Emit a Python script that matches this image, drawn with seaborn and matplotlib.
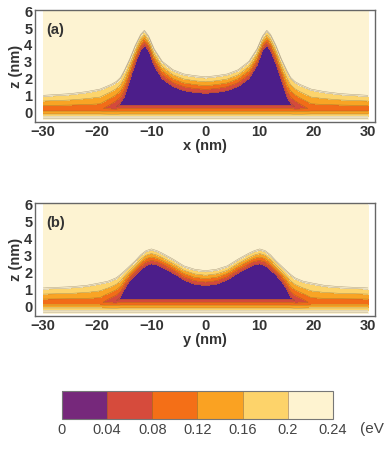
import numpy as np
import seaborn as sns
import matplotlib
matplotlib.use("Agg")
import matplotlib.pyplot as plt
from matplotlib.colors import ListedColormap, BoundaryNorm
from matplotlib.cm import ScalarMappable

# energy levels (eV) and colorbar labels
levels = [0, 0.04, 0.08, 0.12, 0.16, 0.2, 0.24]
level_labels = ["0", "0.04", "0.08", "0.12", "0.16", "0.2", "0.24"]

# band edges, given at |x| (nm), mirrored for x < 0
# ct = where the cream (0.2 eV) region starts above, pt/pb = top/bottom of the
# core (purple where vmin = 0), vmin = lowest energy in that column
xa = [0, 2, 4, 6, 8, 9.5, 10.5, 11.3, 12, 13, 14, 15, 15.7, 16.5, 17.5, 19.5, 22, 25, 30]
ct_a = [2.03, 2.1, 2.2, 2.45, 2.95, 3.7, 4.45, 4.8, 4.55, 3.9, 3.1, 2.42, 2.0, 1.75, 1.57, 1.3, 1.15, 1.03, 0.93]
pt_a = [1.13, 1.18, 1.29, 1.53, 2.0, 2.8, 3.7, 3.98, 3.7, 2.9, 1.93, 0.93, 0.55, 0.33, 0.28, 0.2, 0.2, 0.2, 0.2]
pb_a = [0.4, 0.4, 0.4, 0.4, 0.4, 0.4, 0.4, 0.4, 0.4, 0.4, 0.4, 0.4, 0.4, 0.33, 0.28, 0.2, 0.2, 0.2, 0.2]
vmin_a = [0, 0, 0, 0, 0, 0, 0, 0, 0, 0, 0, 0, 0, 0.04, 0.058, 0.09, 0.09, 0.09, 0.09]

xb = [0, 2, 4, 5, 6, 8, 9, 10, 11, 12, 13, 14, 15, 15.7, 16.5, 18, 19.5, 22, 25, 30]
ct_b = [2.02, 2.1, 2.3, 2.5, 2.7, 3.05, 3.2, 3.3, 3.2, 2.95, 2.6, 2.3, 2.0, 1.8, 1.6, 1.4, 1.3, 1.15, 1.07, 1.0]
pt_b = [1.22, 1.3, 1.55, 1.76, 1.95, 2.3, 2.45, 2.5, 2.4, 2.15, 1.85, 1.5, 1.0, 0.55, 0.33, 0.27, 0.2, 0.2, 0.2, 0.2]
pb_b = [0.4, 0.4, 0.4, 0.4, 0.4, 0.4, 0.4, 0.4, 0.4, 0.4, 0.4, 0.4, 0.4, 0.4, 0.33, 0.27, 0.2, 0.2, 0.2, 0.2]
vmin_b = [0, 0, 0, 0, 0, 0, 0, 0, 0, 0, 0, 0, 0, 0, 0.04, 0.063, 0.09, 0.09, 0.09, 0.09]

cb_z = -0.28  # cream (0.2 eV) boundary below the wetting layer

plot_colors = ["#4c1e8a", "#d44a3c", "#f26c18", "#f9a424", "#fcd46c", "#fdf3d2"]
cbar_colors = ["#76287b", "#d64b3c", "#f46f17", "#faa222", "#fdd36a", "#fef3d0"]


def build_field(xk, ct, pt, pb, vmin, x, z):
    V = np.empty((len(z), len(x)))
    for j, xv in enumerate(np.abs(x)):
        c_t = np.interp(xv, xk, ct)
        p_t = np.interp(xv, xk, pt)
        p_b = np.interp(xv, xk, pb)
        vm = np.interp(xv, xk, vmin)
        edge = max(vm, 0.04)
        zk = [cb_z - 0.12, cb_z, p_b, 0.5 * (p_b + p_t), p_t, c_t, c_t + 0.12]
        vk = [0.235, 0.2, edge, vm, edge, 0.2, 0.235]
        V[:, j] = np.interp(z, zk, vk)
    return V


x = np.linspace(-30, 30, 721)
z = np.linspace(-0.45, 5.97, 500)
X, Z = np.meshgrid(x, z)
V_a = build_field(xa, ct_a, pt_a, pb_a, vmin_a, x, z)
V_b = build_field(xb, ct_b, pt_b, pb_b, vmin_b, x, z)

sns.set_style("white")
plt.rcParams["font.family"] = ["Liberation Sans", "DejaVu Sans"]

fig = plt.figure(figsize=(3.86, 4.5), dpi=100)
ax_a = fig.add_axes([0.0907, 0.7289, 0.881, 0.249])
ax_b = fig.add_axes([0.0907, 0.2978, 0.881, 0.251])
cax = fig.add_axes([0.1606, 0.0689, 0.702, 0.0622])

cmap = ListedColormap(sns.color_palette(plot_colors))
norm = BoundaryNorm(levels, cmap.N)
text_col = "#333333"

for ax, V, tag, xlab in [(ax_a, V_a, "(a)", "x (nm)"), (ax_b, V_b, "(b)", "y (nm)")]:
    ax.contourf(X, Z, V, levels=levels, cmap=cmap, norm=norm)
    ax.contour(X, Z, V, levels=[0.04, 0.08, 0.12, 0.16, 0.2, 0.222],
               colors="#6b5636", linewidths=0.35, alpha=0.55)
    ax.set_xlim(-31.5, 31.3)
    ax.set_ylim(-0.58, 6.08)
    ax.set_xticks([-30, -20, -10, 0, 10, 20, 30])
    ax.set_yticks(range(0, 7))
    ax.set_xticklabels(["\u221230", "\u221220", "\u221210", "0", "10", "20", "30"])
    ax.tick_params(direction="in", length=3, width=0.8, color="#555555",
                   labelsize=10.5, labelcolor=text_col, pad=2)
    for lab in ax.get_xticklabels() + ax.get_yticklabels():
        lab.set_fontweight("bold")
    for sp in ax.spines.values():
        sp.set_color("#666666")
        sp.set_linewidth(1.0)
    ax.set_xlabel(xlab, fontsize=10.5, fontweight="bold", color=text_col, labelpad=0)
    ax.set_ylabel("z (nm)", fontsize=10.5, fontweight="bold", color=text_col, labelpad=1)
    ax.text(-29.4, 4.9, tag, fontsize=10.5, fontweight="bold", color=text_col,
            va="center", ha="left")

sm = ScalarMappable(norm=BoundaryNorm(levels, len(cbar_colors)),
                    cmap=ListedColormap(sns.color_palette(cbar_colors)))
cb = fig.colorbar(sm, cax=cax, orientation="horizontal", ticks=levels)
cb.ax.set_xticklabels(level_labels)
cb.ax.tick_params(length=0, labelsize=10.5, labelcolor="#444444", pad=3)
cb.outline.set_edgecolor("#777777")
cb.outline.set_linewidth(0.8)
for b in levels[1:-1]:
    cax.axvline(b, color="#8a5a2a", lw=0.6, alpha=0.6)
fig.text(0.932, 0.047, "(eV", fontsize=11, color="#444444", ha="left", va="center")

fig.savefig("out.png", dpi=100)
